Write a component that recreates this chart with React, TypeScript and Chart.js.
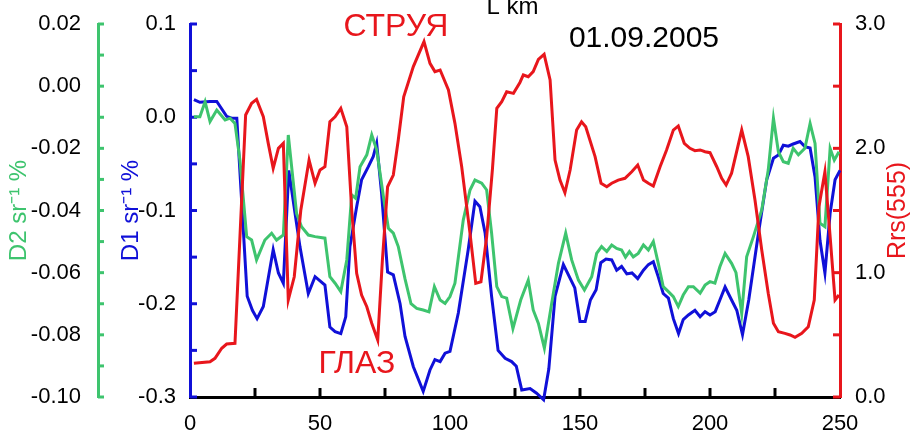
import React, { useEffect, useRef } from "react";
import { Chart, registerables } from "chart.js";

Chart.register(...registerables);

// ---- data (distance L, km) ----
const d1Km = [1.5, 3.8, 7.7, 10.3, 14.1, 16, 18, 22, 24, 25.8, 28.2, 32, 34, 35.9, 38, 40.4, 42.3, 45.5, 48.1, 51.9, 53.8, 55.8, 58, 59.9, 61.5, 64.1, 66, 68.6, 70.5, 71.8, 73.7, 76, 78.2, 80.8, 82.7, 85.9, 89.7, 92.3, 94.2, 96.2, 98.1, 100, 103.2, 107, 109.6, 111.5, 113.5, 116, 118.5, 121.2, 123.7, 125.5, 127.6, 130.8, 133.3, 136, 138, 140.4, 143.6, 148, 150, 152, 154, 156.2, 158, 160, 162.2, 164.1, 166, 168, 170, 172.2, 174.4, 176.3, 178.2, 180.1, 182, 184, 185.9, 187.9, 189.7, 191.7, 194.2, 196.2, 198.1, 200, 202, 203.8, 205.8, 208.3, 210.3, 212.5, 214.9, 218.6, 221.8, 224.4, 226.3, 228.2, 230.1, 232, 234.6, 236.5, 238.5, 240.4, 242.3, 244.2, 246.2, 248.1, 250];
const d1Values = [0.019, 0.016, 0.017, 0.017, 0.001, -0.001, -0.001, -0.192, -0.207, -0.216, -0.203, -0.142, -0.167, -0.178, -0.057, -0.103, -0.139, -0.189, -0.171, -0.18, -0.225, -0.23, -0.232, -0.214, -0.139, -0.096, -0.067, -0.053, -0.042, -0.028, -0.082, -0.166, -0.169, -0.2, -0.235, -0.2675, -0.294, -0.271, -0.26, -0.262, -0.253, -0.251, -0.21, -0.142, -0.09, -0.096, -0.124, -0.192, -0.25, -0.2585, -0.262, -0.267, -0.2925, -0.291, -0.296, -0.303, -0.27, -0.192, -0.158, -0.183, -0.219, -0.219, -0.196, -0.185, -0.156, -0.152, -0.153, -0.164, -0.16, -0.168, -0.167, -0.173, -0.164, -0.158, -0.155, -0.171, -0.189, -0.194, -0.216, -0.232, -0.217, -0.212, -0.207, -0.214, -0.2085, -0.212, -0.2085, -0.196, -0.182, -0.196, -0.207, -0.233, -0.196, -0.125, -0.067, -0.044, -0.0405, -0.03, -0.031, -0.0287, -0.026, -0.0315, -0.033, -0.064, -0.132, -0.167, -0.103, -0.067, -0.057];

const d2Km = [1.5, 3.8, 5.8, 7.7, 10.3, 13.5, 15.4, 17.3, 19.2, 21.8, 23.7, 25.6, 28.8, 31.4, 33.3, 35.9, 37.8, 41, 42.9, 45.5, 48.1, 51.9, 53.8, 55.8, 58, 60.3, 62.2, 63.7, 65.4, 68, 69.9, 71.8, 74.4, 76.3, 78.2, 80.1, 82.7, 85, 87.2, 89.7, 91.9, 94, 96.2, 98.1, 100, 101.9, 105.1, 107.7, 109.6, 112.2, 114.1, 116, 118, 119.9, 121.8, 124.2, 127.2, 130.1, 132, 134, 136.3, 139.1, 141.7, 144.5, 146.8, 149.4, 151.7, 154.5, 156.4, 158.3, 160.3, 162.2, 164.1, 166, 167.5, 169, 170.5, 172.4, 174.4, 176.3, 178.2, 180.1, 182, 184, 185.9, 187.8, 189.7, 191.7, 193.6, 196.2, 198.1, 200, 201.9, 203.8, 205.8, 208.3, 210, 212.2, 214.1, 216.7, 219.9, 222.4, 224.4, 226.3, 228.2, 230.1, 232, 234, 236.5, 238.5, 240.4, 242.3, 244.2, 246.2, 247.8, 249.6];
const d2Values = [-0.0098, -0.0098, -0.005, -0.0114, -0.0077, -0.0109, -0.0103, -0.012, -0.0238, -0.0484, -0.0495, -0.0559, -0.0495, -0.0473, -0.0495, -0.0479, -0.0157, -0.041, -0.0452, -0.0479, -0.0484, -0.0489, -0.0613, -0.0634, -0.0661, -0.0559, -0.035, -0.0361, -0.0259, -0.0221, -0.0157, -0.0205, -0.0356, -0.0457, -0.0473, -0.0516, -0.062, -0.07, -0.0715, -0.072, -0.0726, -0.0645, -0.0688, -0.0699, -0.0677, -0.0634, -0.0431, -0.0334, -0.0302, -0.0312, -0.0334, -0.0473, -0.0645, -0.0677, -0.0682, -0.078, -0.0688, -0.0624, -0.072, -0.0763, -0.0843, -0.0699, -0.057, -0.0473, -0.0559, -0.0624, -0.0656, -0.0613, -0.0538, -0.0516, -0.0532, -0.0511, -0.0522, -0.0527, -0.055, -0.0532, -0.0549, -0.0538, -0.0511, -0.0527, -0.05, -0.057, -0.0645, -0.0661, -0.0677, -0.0709, -0.0672, -0.0645, -0.0645, -0.0666, -0.064, -0.0629, -0.0634, -0.0581, -0.0538, -0.057, -0.06, -0.0731, -0.0549, -0.0484, -0.0398, -0.027, -0.0103, -0.0211, -0.0243, -0.0248, -0.02, -0.0221, -0.02, -0.012, -0.0184, -0.0441, -0.0452, -0.02, -0.0238, -0.0211];

const rrsKm = [1.5, 7.7, 9.6, 12.2, 14.1, 17.3, 21.4, 23.7, 25.6, 28.2, 30.1, 32, 34, 35.9, 37.8, 40.1, 42.6, 45.8, 48.1, 50, 51.9, 53.8, 55.8, 58, 60.3, 62.2, 64.1, 66, 68, 69.9, 72.2, 74, 76, 78.2, 80.1, 82.2, 85.9, 90, 92.3, 94.2, 96.2, 99.4, 101.9, 104.5, 107.7, 109.9, 111.9, 114.1, 116.3, 118, 119.9, 121.8, 124.4, 126.9, 128.2, 130.1, 132, 134, 136.2, 138.5, 140.4, 142.3, 144.2, 146.2, 148.7, 150.6, 152.2, 155.8, 158.1, 160.3, 162.2, 164.7, 167.3, 169.9, 172.2, 174.4, 176.3, 178.2, 180.8, 183.3, 185.9, 187.8, 190.1, 192.3, 194.2, 196.2, 198.1, 200, 202.6, 204.5, 206.2, 208.3, 212.2, 214.7, 217.3, 219.9, 222.4, 224.4, 226.3, 228.8, 230.8, 232.7, 235.3, 237.8, 240.1, 241.9, 244.2, 246.2, 248.1, 249.6];
const rrsValues = [0.271, 0.284, 0.311, 0.392, 0.426, 0.432, 2.268, 2.362, 2.394, 2.254, 2.04, 1.839, 2.0, 2.04, 0.78, 0.967, 1.5, 1.906, 1.719, 1.826, 1.852, 2.214, 2.254, 2.322, 2.174, 1.504, 0.995, 0.82, 0.726, 0.593, 0.458, 1.102, 1.691, 1.785, 2.067, 2.415, 2.657, 2.858, 2.684, 2.617, 2.63, 2.469, 2.201, 1.852, 1.316, 0.914, 0.927, 1.289, 1.826, 2.322, 2.375, 2.455, 2.442, 2.53, 2.59, 2.576, 2.617, 2.716, 2.756, 2.55, 1.906, 1.745, 1.643, 1.826, 2.147, 2.214, 2.174, 1.933, 1.719, 1.691, 1.719, 1.745, 1.759, 1.812, 1.866, 1.745, 1.719, 1.697, 1.852, 1.987, 2.147, 2.18, 2.04, 2.0, 1.981, 1.987, 1.973, 1.965, 1.852, 1.759, 1.705, 1.8, 2.147, 1.933, 1.584, 1.182, 0.834, 0.593, 0.525, 0.512, 0.499, 0.48, 0.512, 0.565, 0.78, 1.53, 1.812, 1.289, 0.78, 0.82];

// ---- tick labels ----
const xTickLabels = ["0", "50", "100", "150", "200", "250"];
const d1TickLabels = ["0.1", "0.0", "-0.1", "-0.2", "-0.3"];
const d2TickLabels = ["0.02", "0.00", "-0.02", "-0.04", "-0.06", "-0.08", "-0.10"];
const rrsTickLabels = ["0.0", "1.0", "2.0", "3.0"];

// ---- text ----
const xTitle = "L km";
const d1Title = "D1 sr\u207B\u00B9 %";
const d2Title = "D2 sr\u207B\u00B9 %";
const rrsTitle = "Rrs(555)";
const jetLabel = "СТРУЯ";
const eyeLabel = "ГЛАЗ";
const dateLabel = "01.09.2005";

const BLUE = "#1010d8";
const GREEN = "#3ec46e";
const RED = "#e8161c";
const FONT = "'Liberation Sans', Arial, sans-serif";

const pickLabel = (labels: string[], v: number) => {
  const hit = labels.find((l) => Math.abs(parseFloat(l) - v) < 1e-6);
  return hit === undefined ? "" : hit;
};

const pts = (xs: number[], ys: number[]) => xs.map((x, i) => ({ x, y: ys[i] }));

const decorPlugin = {
  id: "decor",
  beforeDatasetsDraw(chart: any) {
    const ctx = chart.ctx;
    const { x, yD1, yD2, yR } = chart.scales;
    ctx.save();
    ctx.lineWidth = 3;
    ctx.lineCap = "butt";
    // x ticks, pointing up
    ctx.strokeStyle = "#000";
    x.ticks.forEach((t: any) => {
      if (t.value <= 0 || t.value >= 250) return;
      const px = x.getPixelForValue(t.value);
      ctx.beginPath();
      ctx.moveTo(px, x.top);
      ctx.lineTo(px, x.top - 9);
      ctx.stroke();
    });
    // D1 ticks, pointing right
    ctx.strokeStyle = BLUE;
    yD1.ticks.forEach((t: any) => {
      const py = yD1.getPixelForValue(t.value);
      ctx.beginPath();
      ctx.moveTo(yD1.right, py);
      ctx.lineTo(yD1.right + 7, py);
      ctx.stroke();
    });
    // D2 ticks, pointing right
    ctx.strokeStyle = GREEN;
    yD2.ticks.forEach((t: any) => {
      const py = yD2.getPixelForValue(t.value);
      ctx.beginPath();
      ctx.moveTo(yD2.right, py);
      ctx.lineTo(yD2.right + 6, py);
      ctx.stroke();
    });
    // Rrs ticks, pointing left
    ctx.strokeStyle = RED;
    yR.ticks.forEach((t: any) => {
      const py = yR.getPixelForValue(t.value);
      ctx.beginPath();
      ctx.moveTo(yR.left, py);
      ctx.lineTo(yR.left - 7, py);
      ctx.stroke();
    });
    ctx.restore();
  },
  afterDraw(chart: any) {
    const ctx = chart.ctx;
    const { x, yR } = chart.scales;
    const area = chart.chartArea;
    ctx.save();
    ctx.textAlign = "center";
    ctx.textBaseline = "alphabetic";
    // x title at the top (partly cut)
    ctx.fillStyle = "#000";
    ctx.font = `24px ${FONT}`;
    ctx.fillText(xTitle, x.getPixelForValue(124), 14);
    // annotations
    ctx.fillStyle = RED;
    ctx.font = `32px ${FONT}`;
    ctx.fillText(jetLabel, x.getPixelForValue(79.2), yR.getPixelForValue(2.9));
    ctx.fillText(eyeLabel, x.getPixelForValue(64.2), yR.getPixelForValue(0.193));
    ctx.fillStyle = "#000";
    ctx.font = `30px ${FONT}`;
    ctx.fillText(dateLabel, x.getPixelForValue(174.6), yR.getPixelForValue(2.815));
    // right axis title, reading bottom to top
    ctx.fillStyle = RED;
    ctx.font = `25px ${FONT}`;
    ctx.translate(898, (area.top + area.bottom) / 2);
    ctx.rotate(-Math.PI / 2);
    ctx.textBaseline = "middle";
    ctx.fillText(rrsTitle, 0, 0);
    ctx.restore();
  },
};

export default function App() {
  const ref = useRef<HTMLCanvasElement | null>(null);

  useEffect(() => {
    if (!ref.current) return;
    const tickFont = { family: FONT, size: 22 };
    const chart = new Chart(ref.current, {
      type: "line",
      data: {
        datasets: [
          {
            label: "Rrs(555)",
            data: pts(rrsKm, rrsValues),
            yAxisID: "yR",
            borderColor: RED,
            borderWidth: 3,
            pointRadius: 0,
            tension: 0,
            clip: false,
          },
          {
            label: "D2",
            data: pts(d2Km, d2Values),
            yAxisID: "yD2",
            borderColor: GREEN,
            borderWidth: 3,
            pointRadius: 0,
            tension: 0,
            clip: false,
          },
          {
            label: "D1",
            data: pts(d1Km, d1Values),
            yAxisID: "yD1",
            borderColor: BLUE,
            borderWidth: 3,
            pointRadius: 0,
            tension: 0,
            clip: false,
          },
        ],
      },
      options: {
        responsive: false,
        animation: false,
        devicePixelRatio: 1,
        layout: { padding: { top: 24, left: 0, right: 0, bottom: 0 } },
        plugins: { legend: { display: false }, tooltip: { enabled: false }, title: { display: false } },
        scales: {
          x: {
            type: "linear",
            position: "bottom",
            min: 0,
            max: 250,
            afterFit: (s: any) => { s.height = 36; },
            grid: { display: false },
            border: { display: true, color: "#000", width: 3 },
            ticks: {
              stepSize: 25,
              autoSkip: false,
              maxRotation: 0,
              padding: 6,
              color: "#000",
              font: tickFont,
              callback: (v: any) => pickLabel(xTickLabels, Number(v)),
            },
          },
          yD2: {
            type: "linear",
            position: "left",
            weight: 2,
            min: -0.1,
            max: 0.02,
            afterFit: (s: any) => { s.width = 98; },
            grid: { display: false },
            border: { display: true, color: GREEN, width: 3 },
            title: { display: true, text: d2Title, color: GREEN, font: { family: FONT, size: 24 }, padding: { top: 5, bottom: 0 } },
            ticks: {
              stepSize: 0.01,
              autoSkip: false,
              padding: 9,
              color: "#000",
              font: tickFont,
              callback: (v: any) => pickLabel(d2TickLabels, Number(v)),
            },
          },
          yD1: {
            type: "linear",
            position: "left",
            weight: 1,
            min: -0.3,
            max: 0.1,
            afterFit: (s: any) => { s.width = 92; },
            grid: { display: false },
            border: { display: true, color: BLUE, width: 3 },
            title: { display: true, text: d1Title, color: BLUE, font: { family: FONT, size: 24 }, padding: { top: 19, bottom: 0 } },
            ticks: {
              stepSize: 0.05,
              autoSkip: false,
              padding: 6,
              color: "#000",
              font: tickFont,
              callback: (v: any) => pickLabel(d1TickLabels, Number(v)),
            },
          },
          yR: {
            type: "linear",
            position: "right",
            min: 0,
            max: 3,
            afterFit: (s: any) => { s.width = 72; },
            grid: { display: false },
            border: { display: true, color: RED, width: 3 },
            ticks: {
              stepSize: 0.5,
              autoSkip: false,
              padding: 7,
              color: "#000",
              font: tickFont,
              callback: (v: any) => pickLabel(rrsTickLabels, Number(v)),
            },
          },
        },
      },
      plugins: [decorPlugin],
    } as any);
    return () => chart.destroy();
  }, []);

  return (
    <div style={{ position: "absolute", left: 0, top: 0, width: 912, height: 433, background: "#fff" }}>
      <canvas ref={ref} width={912} height={433} style={{ display: "block" }} />
    </div>
  );
}
